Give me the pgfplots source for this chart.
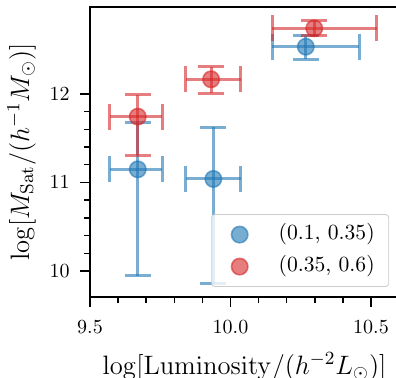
\RequirePackage{fix-cm}
\documentclass[border=0pt]{standalone}
\usepackage{pgfplots}
\pgfplotsset{compat=1.18}
\definecolor{tabblue}{RGB}{31,119,180}
\definecolor{tabred}{RGB}{214,39,40}
\begin{document}
\begin{tikzpicture}
\begin{axis}[
  name=ax,
  scale only axis,
  width=154.55pt, height=145pt,
  xmin=9.5, xmax=10.6,
  ymin=9.706, ymax=12.983,
  xtick={9.5,10,10.5},
  ytick={10,11,12},
  minor x tick num=4,
  minor y tick num=4,
  tick pos=left,
  tick align=outside,
  major tick length=5pt,
  minor tick length=2.9pt,
  major tick style={black, line width=0.9pt},
  minor tick style={black, line width=0.7pt},
  axis line style={line width=0.9pt},
  xticklabel style={yshift=-3.5pt, /pgf/number format/fixed, /pgf/number format/fixed zerofill, /pgf/number format/precision=1},
  yticklabel style={xshift=-1.7pt, /pgf/number format/fixed},
  label style={font=\fontsize{13.3}{16}\selectfont},
  xlabel style={yshift=-2.5pt},
  xlabel={$\log[\mathrm{Luminosity}/(h^{-2}L_\odot)]$},
  ylabel={$\log[M_{\mathrm{Sat}}/(h^{-1}M_\odot)]$},
  legend cell align=left,
  legend style={at={(0.9676,0.0345)}, anchor=south east, draw=black!20, rounded corners=1.5pt, fill=white, fill opacity=0.8, text opacity=1,
    inner xsep=7pt, inner ysep=4.5pt, row sep=5pt, column sep=0pt,
    font=\fontsize{10.8}{13}\selectfont,
    nodes={inner xsep=0pt, inner ysep=0pt, text height=8pt, text depth=3pt}},
  legend image code/.code={\path[draw=none] (-7pt,0pt) (19.5pt,0pt); \path[#1, draw=none] plot coordinates {(0pt,0pt)};},
]
\addplot[only marks, color=tabblue, mark=*, mark size=4.1pt,
  mark options={fill=tabblue, draw=tabblue, fill opacity=0.6, draw opacity=0.6, line width=0.8pt},
  error bars/.cd, x dir=both, x explicit, y dir=both, y explicit,
  error mark=|,
  error bar style={line width=1.5pt, opacity=0.6, tabblue},
  error mark options={line width=1.5pt, mark size=6.5pt, opacity=0.6, tabblue}]
  coordinates {
  (9.670,11.149) += (0.087,0.527) -= (0.099,1.205)
  (9.939,11.040) += (0.098,0.584) -= (0.098,1.183)
  (10.268,12.534) += (0.190,0.125) -= (0.119,0.139)
  };
\addlegendentry{(0.1, 0.35)}
\addplot[only marks, color=tabred, mark=*, mark size=4.1pt,
  mark options={fill=tabred, draw=tabred, fill opacity=0.6, draw opacity=0.6, line width=0.8pt},
  error bars/.cd, x dir=both, x explicit, y dir=both, y explicit,
  error mark=|,
  error bar style={line width=1.5pt, opacity=0.6, tabred},
  error mark options={line width=1.5pt, mark size=6.5pt, opacity=0.6, tabred}]
  coordinates {
  (9.670,11.744) += (0.087,0.246) -= (0.099,0.434)
  (9.931,12.166) += (0.106,0.144) -= (0.090,0.156)
  (10.298,12.742) += (0.222,0.083) -= (0.149,0.083)
  };
\addlegendentry{(0.35, 0.6)}
\end{axis}
\pgfresetboundingbox
\useasboundingbox ([xshift=-45pt, yshift=-40.5pt]ax.south west) rectangle ([xshift=153pt, yshift=3.5pt]ax.north west);
\end{tikzpicture}
\end{document}
